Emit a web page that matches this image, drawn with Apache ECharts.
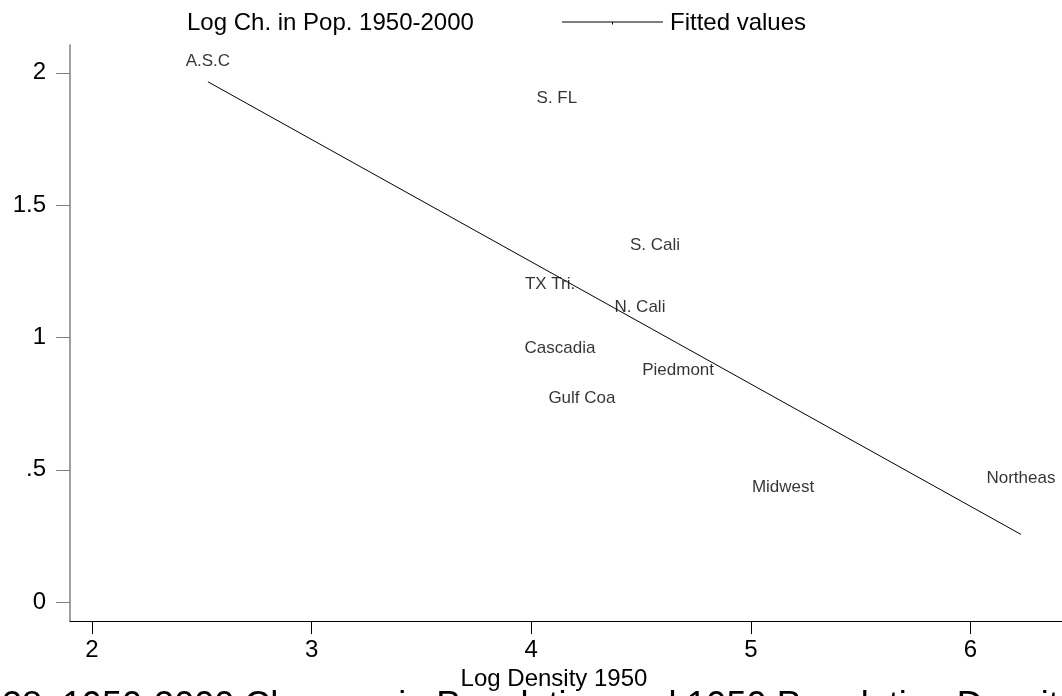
<!DOCTYPE html>
<html>
<head>
<meta charset="utf-8">
<script src="https://cdn.jsdelivr.net/npm/echarts@6/dist/echarts.min.js"></script>
<style>
html,body{margin:0;padding:0;background:#fff;}
#chart{width:1062px;height:696px;}
</style>
</head>
<body>
<div id="chart"></div>
<script>
// Region labels and their values (Log Density 1950, Log Ch. in Pop. 1950-2000)
var regionNames = ['A.S.C', 'S. FL', 'S. Cali', 'TX Tri.', 'N. Cali', 'Cascadia', 'Piedmont', 'Gulf Coa', 'Midwest', 'Northeas'];
var logDensity1950 = [2.528, 4.117, 4.564, 4.086, 4.495, 4.131, 4.669, 4.231, 5.147, 6.230];
var logChangePop = [2.004, 1.864, 1.311, 1.164, 1.077, 0.923, 0.840, 0.731, 0.395, 0.429];

// Fitted values line endpoints
var fittedX = [2.528, 6.230];
var fittedY = [1.966, 0.256];

var xTicks = [2, 3, 4, 5, 6];
var yTicks = [0, 0.5, 1, 1.5, 2];
var yTickLabels = ['0', '.5', '1', '1.5', '2'];

var FONT = 'Liberation Sans, Arial, sans-serif';

var scatterData = logDensity1950.map(function (x, i) {
  return { value: [x, logChangePop[i]], name: regionNames[i] };
});
var fittedData = fittedX.map(function (x, i) { return [x, fittedY[i]]; });

var chart = echarts.init(document.getElementById('chart'), null, { renderer: 'canvas' });
chart.setOption({
  animation: false,
  backgroundColor: '#ffffff',
  textStyle: { fontFamily: FONT },
  grid: { left: 70, top: 45, right: 0, bottom: 73, containLabel: false },
  legend: [
    {
      top: 6,
      left: 182,
      itemWidth: 0,
      itemHeight: 10,
      itemGap: 0,
      textStyle: { fontFamily: FONT, fontSize: 24, color: '#000', padding: [0, 0, 0, -5] },
      data: [{ name: 'Log Ch. in Pop. 1950-2000', icon: 'none' }]
    },
    {
      top: 6,
      left: 557,
      itemWidth: 101,
      itemHeight: 3,
      textStyle: { fontFamily: FONT, fontSize: 24, color: '#000', padding: [0, 0, 0, 2] },
      data: [{
        name: 'Fitted values',
        icon: 'path://M0,0 L101,0 L101,1 L0,1 Z M50,1 L51,1 L51,3 L50,3 Z',
        itemStyle: { color: '#000', borderWidth: 0 }
      }]
    }
  ],
  xAxis: {
    type: 'value',
    min: 1.9,
    max: 6.417,
    name: 'Log Density 1950',
    nameLocation: 'middle',
    nameGap: 40,
    nameTextStyle: { fontFamily: FONT, fontSize: 24, color: '#000', padding: [0, 24, 0, 0] },
    axisLine: { show: true, onZero: false, lineStyle: { color: '#000', width: 1 } },
    axisTick: { show: true, length: 13, customValues: xTicks, lineStyle: { color: '#000' } },
    axisLabel: { customValues: xTicks, margin: 17, fontFamily: FONT, fontSize: 24, color: '#000' },
    splitLine: { show: false }
  },
  yAxis: {
    type: 'value',
    min: -0.0716,
    max: 2.105,
    axisLine: { show: true, onZero: false, lineStyle: { color: '#808080', width: 1.5 } },
    axisTick: { show: true, length: 14, customValues: yTicks, lineStyle: { color: '#808080' } },
    axisLabel: {
      customValues: yTicks,
      margin: 24,
      fontFamily: FONT,
      fontSize: 24,
      color: '#000',
      formatter: function (v) {
        var idx = yTicks.indexOf(v);
        return idx >= 0 ? yTickLabels[idx] : '';
      }
    },
    splitLine: { show: false }
  },
  series: [
    {
      name: 'Log Ch. in Pop. 1950-2000',
      type: 'scatter',
      data: scatterData,
      symbolSize: 1,
      itemStyle: { color: 'rgba(0,0,0,0)' },
      label: {
        show: true,
        position: 'top',
        distance: 1,
        formatter: function (p) { return p.name; },
        fontFamily: FONT,
        fontSize: 17,
        color: '#000'
      },
      emphasis: { disabled: true }
    },
    {
      name: 'Fitted values',
      type: 'line',
      data: fittedData,
      symbol: 'none',
      lineStyle: { color: '#000', width: 1 },
      itemStyle: { color: '#000' },
      emphasis: { disabled: true }
    }
  ],
  graphic: [
    {
      type: 'text',
      left: 2,
      top: 689,
      style: {
        text: '28. 1950-2000 Changes in Population and 1950 Population Density',
        fontFamily: FONT,
        fontSize: 36,
        fill: '#000'
      }
    }
  ]
});
</script>
</body>
</html>
